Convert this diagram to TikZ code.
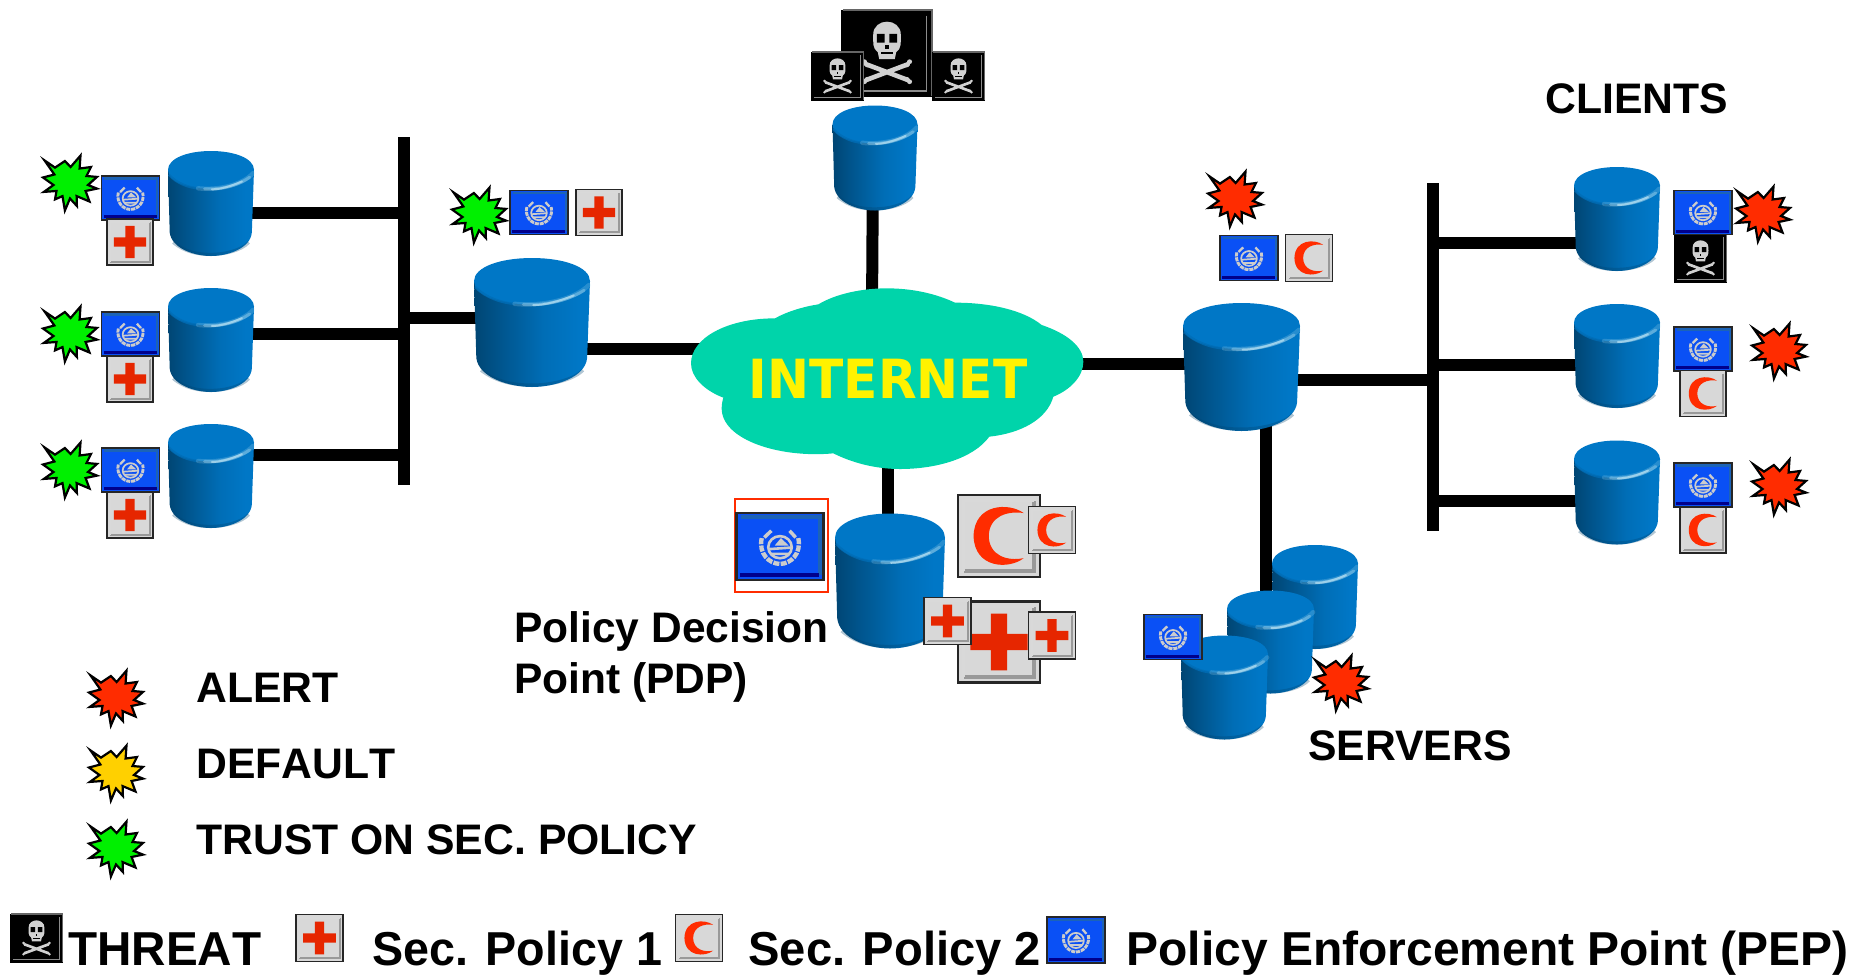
\documentclass[tikz,border=0pt]{standalone}
\usepackage{fontspec}
\setmainfont{Liberation Sans}
\newfontfamily\inetfont{DejaVu Sans}
\definecolor{cloudc}{HTML}{00D4AA}
\definecolor{cyltop}{HTML}{0077C6}
\definecolor{cross}{HTML}{E62600}
\definecolor{cres}{HTML}{FF2C00}
\definecolor{iconbg}{HTML}{D8D8D8}
\definecolor{pepblue}{HTML}{0A50F5}
\definecolor{alertc}{HTML}{FF2C00}
\definecolor{defc}{HTML}{FFD000}
\definecolor{trustc}{HTML}{00F000}
\definecolor{glow}{HTML}{BFE6F5}
\pgfdeclarehorizontalshading{cylbody}{100bp}{
  color(0bp)=(cyltop!82!black);
  color(18bp)=(cyltop!50!black);
  color(35bp)=(cyltop!70!black);
  color(55bp)=(cyltop!92!black);
  color(70bp)=(cyltop);
  color(100bp)=(cyltop)}
\tikzset{
  wire/.style={line width=6pt,black},
  label/.style={font=\fontsize{21.35pt}{24pt}\selectfont\bfseries,anchor=base west,inner sep=0pt},
  bottomlabel/.style={font=\fontsize{23.8pt}{26pt}\selectfont\bfseries,anchor=base west,inner sep=0pt},
  anchorbox/.style={inner sep=0pt,outer sep=0pt}
}
\newlength{\icw}
% cylinder: name, cx, cy, w, h
\newcommand{\cyl}[5]{%
  \node[anchorbox,minimum width=#4*0.5pt,minimum height=#5*0.5pt] (#1) at (#2,#3) {};
  \begin{scope}[shift={(#2,#3)},x=#4*0.25pt,y=-#5*0.25pt]
    \shade[shading=cylbody]
      (-1,-.64) -- (-.96,.55) .. controls (-.92,.85) and (-.4,1) .. (0,1)
      .. controls (.4,1) and (.92,.85) .. (.95,.55) -- (1,-.64) -- cycle;
    \draw[cyltop!55!black,line width=1.6pt,opacity=.3]
      (-.88,.74) .. controls (-.6,.93) and (-.3,.97) .. (0,.97) .. controls (.3,.97) and (.7,.9) .. (.88,.74);
    \fill[cyltop] (-1,-.64) .. controls (-1,-.86) and (-.55,-1) .. (0,-1)
      .. controls (.55,-1) and (1,-.86) .. (1,-.64)
      .. controls (1,-.42) and (.55,-.28) .. (0,-.28)
      .. controls (-.55,-.28) and (-1,-.42) .. (-1,-.64) -- cycle;
    \draw[cyltop!92!black,line width=1.2pt,opacity=.8]
      (-.98,-.55) .. controls (-.8,-.38) and (-.5,-.3) .. (-.3,-.29);
    \draw[glow,line width=2.2pt,opacity=.2,line cap=round]
      (-.3,-.29) .. controls (.1,-.25) and (.7,-.33) .. (.98,-.58);
    \draw[glow,line width=1.5pt,opacity=.35,line cap=round]
      (-.15,-.28) .. controls (.2,-.26) and (.6,-.33) .. (.9,-.5);
    \draw[glow,line width=1pt,opacity=.65,line cap=round]
      (.02,-.27) .. controls (.2,-.27) and (.45,-.32) .. (.72,-.42);
  \end{scope}}
% base of every icon
\newcommand{\iconbase}[5]{% name cx cy w h
  \node[anchorbox,minimum width=#4*0.5pt,minimum height=#5*0.5pt] (#1) at (#2,#3) {};
  \pgfmathsetlength{\icw}{#4*0.5}%
}
\newcommand{\secbox}[5]{%
  \iconbase{#1}{#2}{#3}{#4}{#5}%
  \begin{scope}[shift={(#2,#3)},x=#4*0.25pt,y=-#5*0.25pt]
    \fill[iconbg] (-1,-1) rectangle (1,1);
    \draw[black!40,line width=.05\icw] (-.86,.86) -- (.86,.86) -- (.86,-.86);
    \draw[white!85!black,line width=.04\icw] (-.87,.86) -- (-.87,-.87) -- (.86,-.87);
    \draw[black!85,line width=.03\icw] (-1,-1) rectangle (1,1);
}
% Crosses and crescents
\newcommand{\crossicon}[5]{%
  \secbox{#1}{#2}{#3}{#4}{#5}
    \fill[cross] (-.2,-.7) -- (.2,-.7) -- (.2,-.2) -- (.7,-.2) -- (.7,.2) -- (.2,.2)
      -- (.2,.7) -- (-.2,.7) -- (-.2,.2) -- (-.7,.2) -- (-.7,-.2) -- (-.2,-.2) -- cycle;
  \end{scope}}
\newcommand{\cresicon}[5]{%
  \secbox{#1}{#2}{#3}{#4}{#5}
    \fill[cres] (.6,-.56) .. controls (.25,-.82) and (-.6,-.8) .. (-.62,0)
      .. controls (-.6,.8) and (.25,.82) .. (.6,.54)
      .. controls (.2,.62) and (-.24,.48) .. (-.25,0)
      .. controls (-.24,-.48) and (.2,-.62) .. (.6,-.56) -- cycle;
  \end{scope}}
% PEP
\newcommand{\pepicon}[5]{%
  \iconbase{#1}{#2}{#3}{#4}{#5}%
  \begin{scope}[shift={(#2,#3)},x=#4*0.25pt,y=-#5*0.25pt]
    \fill[pepblue] (-1,-1) rectangle (1,1);
    \draw[cyan!40!blue,line width=.04\icw] (-.9,-.88) -- (.92,-.88) -- (.92,.86);
    \draw[blue!55!black,line width=.05\icw] (-.92,.86) -- (.9,.86);
    \draw[black!85,line width=.03\icw] (-1,-1) rectangle (1,1);
    \draw[black!20,line width=.05\icw,dash pattern=on .07\icw off .015\icw]
      (-.42,-.25) .. controls (-.5,.2) and (-.25,.52) .. (0,.52) .. controls (.25,.52) and (.5,.2) .. (.42,-.25);
    \draw[black!20,line width=.03\icw] (0,.02) ellipse (.27 and .33);
    \draw[black!20,line width=.03\icw] (-.27,.08) -- (.27,.03) (-.2,.22) -- (.2,.22);
    \fill[black!20] (.02,-.25) -- (.2,-.03) -- (-.12,-.03) -- cycle;
    \draw[black!20,line width=.04\icw] (-.2,-.47) -- (-.36,-.27) (.22,-.47) -- (.36,-.27);
  \end{scope}}
% Skull
\newcommand{\skullicon}[5]{%
  \iconbase{#1}{#2}{#3}{#4}{#5}%
  \begin{scope}[shift={(#2,#3)},x=#4*0.25pt,y=-#5*0.25pt]
    \fill[black] (-1,-1) rectangle (1,1);
    \draw[black!60,line width=.02\icw] (-.95,-.98) -- (.98,-.98) -- (.98,.98);
    \draw[black!45,line width=.02\icw] (.86,-.86) -- (.86,.88) -- (-.9,.88);
    \draw[black!18,line width=.05\icw,line cap=round]
      (-.45,.62) -- (.45,.26) (-.45,.26) -- (.45,.62);
    \fill[black!18] (-.49,.2) circle[radius=.055] (.49,.2) circle[radius=.055] (-.49,.66) circle[radius=.055] (.49,.66) circle[radius=.055]
      (-.43,.28) circle[radius=.05] (.43,.28) circle[radius=.05] (-.43,.6) circle[radius=.05] (.43,.6) circle[radius=.05];
    \fill[black!18] (-.3,-.42) .. controls (-.3,-.82) and (.3,-.82) .. (.3,-.42)
      .. controls (.3,-.25) and (.32,-.1) .. (.2,-.02) -- (.17,.14) -- (-.17,.14) -- (-.2,-.02)
      .. controls (-.32,-.1) and (-.3,-.25) .. (-.3,-.42) -- cycle;
    \fill[black] (-.22,-.44) rectangle (-.05,-.24) (.05,-.44) rectangle (.22,-.24);
    \fill[black] (-.14,-.02) rectangle (.14,.03);
    \fill[black] (-.035,-.18) rectangle (.035,-.1);
  \end{scope}}
% Star: name, cx, cy, colour
\newcommand{\burst}[4]{%
  \node[anchorbox,minimum size=30pt] (#1) at (#2,#3) {};
  \begin{scope}[shift={(#2,#3)},x=.15pt,y=-.15pt]
    \filldraw[fill=#4,draw=black,line width=1.1pt,miter limit=6]
      (-85,-72) -- (-50,-48) -- (-17,-70) -- (2,-50) -- (35,-88) -- (32,-45) -- (70,-50)
      -- (55,-20) -- (90,-17) -- (60,10) -- (90,22) -- (52,30) -- (65,65) -- (22,47)
      -- (23,80) -- (0,55) -- (-17,95) -- (-25,47) -- (-50,58) -- (-45,30) -- (-87,33)
      -- (-55,10) -- (-90,-15) -- (-52,-25) -- cycle;
  \end{scope}}
\begin{document}
\begin{tikzpicture}[x=.5pt,y=-.5pt]
\useasboundingbox (0,0) rectangle (1863,975);
% bus and junction coordinates
\coordinate (busLtop) at (404,137);
\coordinate (busLbot) at (404,485);
\coordinate (jL1) at (404,213);
\coordinate (jL2) at (404,334);
\coordinate (jL3) at (404,455);
\coordinate (jL4) at (404,318);
\coordinate (busRtop) at (1433,183);
\coordinate (busRbot) at (1433,531);
\coordinate (jR1) at (1433,243);
\coordinate (jR2) at (1433,365);
\coordinate (jR3) at (1433,501);
\coordinate (jR4) at (1433,380);
\coordinate (jIL) at (720,349);
\coordinate (jIR) at (1060,364);
\coordinate (jIT) at (872,310);
\coordinate (jIB) at (888,450);
\coordinate (jSv) at (1266,600);
% nodes for connector ends
\node[anchorbox] (cL1p) at (211,203) {};
\node[anchorbox] (cL2p) at (211,340) {};
\node[anchorbox] (cL3p) at (211,476) {};
\node[anchorbox] (cLp) at (532,322) {};
\node[anchorbox] (cRp) at (1241,367) {};
\node[anchorbox] (cTp) at (873,158) {};
\node[anchorbox] (cPp) at (888,580) {};
\node[anchorbox] (cR1p) at (1617,219) {};
\node[anchorbox] (cR2p) at (1617,356) {};
\node[anchorbox] (cR3p) at (1617,492) {};
% connectors
\draw[wire] (busLtop) -- (busLbot);
\draw[wire] (busRtop) -- (busRbot);
\draw[wire] (cL1p |- jL1) -- (jL1);
\draw[wire] (cL2p |- jL2) -- (jL2);
\draw[wire] (cL3p |- jL3) -- (jL3);
\draw[wire] (cLp |- jL4) -- (jL4);
\draw[wire] (cLp |- jIL) -- (jIL);
\draw[wire] (cRp |- jIR) -- (jIR);
\draw[wire] (cRp |- jR4) -- (jR4);
\draw[wire] (cR1p |- jR1) -- (jR1);
\draw[wire] (cR2p |- jR2) -- (jR2);
\draw[wire] (cR3p |- jR3) -- (jR3);
\draw[wire] (cTp) -- (jIT);
\draw[wire] (cPp) -- (jIB);
\draw[wire] (cRp -| jSv) -- (jSv);
% cloud
\begin{scope}[shift={(680,270)},x=.16667pt,y=-.16667pt]
\fill[cloudc] (285,145) .. controls (320,125) and (370,110) .. (415,103)
 .. controls (470,70) and (550,55) .. (620,55)
 .. controls (700,55) and (770,72) .. (825,98)
 .. controls (930,98) and (1030,120) .. (1085,165)
 .. controls (1160,190) and (1210,230) .. (1210,275)
 .. controls (1210,320) and (1170,360) .. (1120,380)
 .. controls (1100,450) and (1020,490) .. (928,500)
 .. controls (880,565) and (770,597) .. (660,597)
 .. controls (590,597) and (520,580) .. (460,550)
 .. controls (300,565) and (125,510) .. (125,415)
 .. controls (125,405) and (127,393) .. (130,383)
 .. controls (70,360) and (33,320) .. (33,280)
 .. controls (33,205) and (140,145) .. (285,145) -- cycle;
\end{scope}
\node[anchorbox,text=yellow,font=\inetfont\fontsize{27pt}{30pt}\selectfont\bfseries,xscale=.93] (inet) at (888,378.5) {INTERNET};
% cylinders
\cyl{cL1}{211}{203.5}{86}{105}
\cyl{cL2}{211}{340}{86}{104}
\cyl{cL3}{211}{476}{86}{104}
\cyl{cL}{532}{322.5}{116}{129}
\cyl{cR}{1241.5}{367}{117}{128}
\cyl{cT}{875}{158}{85}{105}
\cyl{cP}{890}{581}{110}{135}
\cyl{cR1}{1617}{219}{86}{104}
\cyl{cR2}{1617}{356}{86}{104}
\cyl{cR3}{1617}{492.5}{86}{104}
\cyl{sB}{1315}{597}{86}{104}
\cyl{sM}{1270.5}{642}{87}{103}
\cyl{sF}{1224.5}{687.5}{87}{104}
% left icons
\burst{sL1}{70}{182}{trustc}
\burst{sL2}{70}{333}{trustc}
\burst{sL3}{70}{469}{trustc}
\pepicon{pL1}{130.5}{198}{58}{44}
\pepicon{pL2}{130.5}{334}{58}{44}
\pepicon{pL3}{130.5}{470}{58}{44}
\crossicon{xL1}{130}{242}{46}{46}
\crossicon{xL2}{130}{379}{46}{46}
\crossicon{xL3}{130}{515}{46}{46}
\burst{sL}{479}{214}{trustc}
\pepicon{pL}{539}{212.5}{58}{44}
\crossicon{xL}{599}{212.5}{46}{46}
% threats
\skullicon{tBig}{887}{53}{92}{87}
\skullicon{tL}{837.5}{76}{53}{49}
\skullicon{tR}{958.5}{76}{53}{49}
% PDP
\draw[alertc,line width=.7pt] (735,499) rectangle (828,592);
\pepicon{pP}{780}{546.5}{87}{67}
\cresicon{cBig}{999}{536}{82}{82}
\cresicon{cSm}{1052}{530}{47}{47}
\crossicon{xBig}{999}{642}{82}{81}
\crossicon{xSmL}{947.5}{621}{47}{47}
\crossicon{xSmR}{1052}{635.5}{47}{47}
% right group
\burst{sR}{1235}{198}{alertc}
\pepicon{pR}{1249}{258}{58}{45}
\cresicon{cR0}{1309}{258}{47}{47}
\pepicon{pS}{1173}{637}{58}{45}
\burst{sS}{1341}{682}{alertc}
% clients
\skullicon{tC}{1700.5}{258}{53}{49}
\pepicon{pC1}{1703}{212.5}{58}{44}
\burst{sC1}{1763}{213}{alertc}
\pepicon{pC2}{1703}{349}{58}{44}
\cresicon{cC2}{1703}{393.5}{46}{46}
\burst{sC2}{1779}{350}{alertc}
\pepicon{pC3}{1703}{485}{58}{44}
\cresicon{cC3}{1703}{530}{46}{46}
\burst{sC3}{1779}{486}{alertc}
% legend stars
\burst{lA}{116}{697}{alertc}
\burst{lD}{116}{772}{defc}
\burst{lT}{116}{848}{trustc}
% text
\node[label] (tClients) at (1545,113) {CLIENTS};
\node[label] (tServers) at (1308,760) {SERVERS};
\node[label,xscale=.995] (tPdp1) at (514,642) {Policy Decision};
\node[label,xscale=.995] (tPdp2) at (514,693) {Point (PDP)};
\node[label] (tAlert) at (196,702) {ALERT};
\node[label,font=\fontsize{21.35pt}{24pt}\selectfont\bfseries\addfontfeatures{Kerning=Off}] (tDefault) at (196,778) {DEFAULT};
\node[label] (tTrust) at (196,854) {TRUST ON SEC. POLICY};
% bottom legend
\skullicon{bS}{36.5}{938}{53}{49}
\crossicon{bX}{319.5}{938}{47}{47}
\cresicon{bC}{699}{938}{47}{47}
\pepicon{bP}{1076}{940}{58}{46}
\node[bottomlabel,font=\fontsize{23.8pt}{26pt}\selectfont\bfseries\addfontfeatures{Kerning=Off}] (bT1) at (68,965) {THREAT};
\node[bottomlabel,xscale=.98] (bT2) at (372,965) {Sec. Policy 1};
\node[bottomlabel,xscale=.99] (bT3) at (748,965) {Sec. Policy 2};
\node[bottomlabel,xscale=1.008] (bT4) at (1126,965) {Policy Enforcement Point (PEP)};
\end{tikzpicture}
\end{document}
